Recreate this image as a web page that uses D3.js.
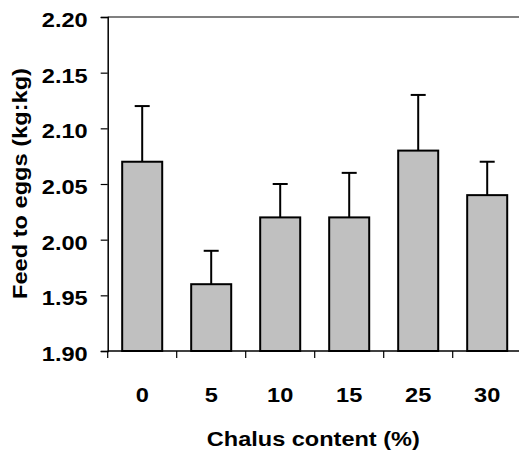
<!DOCTYPE html>
<html lang="en">
<head>
    <meta charset="UTF-8">
    <title>feed to eggs</title>
    <script src="https://cdn.jsdelivr.net/npm/d3@7"></script>
    <style>
        body { margin: 0; background: #fff; }
        text { font-family: "Liberation Sans", Arial, sans-serif; font-weight: bold; fill: #000; }
    </style>
</head>
<body>
    <svg width="519" height="450" id="mainsvg"></svg>
    <script>
        const categories = ['0', '5', '10', '15', '25', '30'];
        const means = [2.07, 1.96, 2.02, 2.02, 2.08, 2.04];
        const errors = [0.05, 0.03, 0.03, 0.04, 0.05, 0.03];
        const yTicks = [1.90, 1.95, 2.00, 2.05, 2.10, 2.15, 2.20];

        const svg = d3.select('#mainsvg');
        const plotLeft = 107.7, plotRight = 521.7, plotTop = 17, plotBottom = 351;
        const stretch = 1.15;

        const xScale = d3.scaleBand()
            .domain(categories)
            .range([plotLeft, plotRight])
            .paddingInner(0.42)
            .paddingOuter(0.21);
        const yScale = d3.scaleLinear()
            .domain([1.90, 2.20])
            .range([plotBottom, plotTop]);

        // widen text a bit like the original
        function widen(sel) {
            sel.each(function() {
                const w = this.getComputedTextLength();
                d3.select(this).attr('textLength', w * stretch).attr('lengthAdjust', 'spacingAndGlyphs');
            });
        }

        // top frame line
        svg.append('line')
            .attr('x1', plotLeft).attr('x2', plotRight)
            .attr('y1', plotTop).attr('y2', plotTop)
            .attr('stroke', '#808080').attr('stroke-width', 2);

        // y axis
        const yAxis = d3.axisLeft(yScale).tickValues(yTicks).tickFormat(d3.format('.2f'))
            .tickSize(7).tickPadding(13);
        const yg = svg.append('g').attr('transform', `translate(${plotLeft},0)`).call(yAxis);
        yg.select('.domain').attr('stroke', '#000').attr('stroke-width', 1.5);
        yg.selectAll('.tick line').attr('stroke', '#000').attr('stroke-width', 1.2);
        yg.selectAll('.tick text').attr('font-size', '20.5px').attr('font-family', null)
            .attr('dy', '0.32em').attr('y', 3).call(widen);

        // bars
        svg.selectAll('.bar').data(categories).join('rect')
            .attr('class', 'bar')
            .attr('x', d => xScale(d))
            .attr('width', xScale.bandwidth())
            .attr('y', (d, i) => yScale(means[i]))
            .attr('height', (d, i) => yScale(1.90) - yScale(means[i]))
            .attr('fill', '#c0c0c0')
            .attr('stroke', '#000')
            .attr('stroke-width', 2);

        // error bars (upper only)
        const eg = svg.append('g');
        eg.selectAll('.err').data(categories).join('line')
            .attr('x1', d => xScale(d) + xScale.bandwidth() / 2)
            .attr('x2', d => xScale(d) + xScale.bandwidth() / 2)
            .attr('y1', (d, i) => yScale(means[i]))
            .attr('y2', (d, i) => yScale(means[i] + errors[i]))
            .attr('stroke', '#000').attr('stroke-width', 2);
        eg.selectAll('.cap').data(categories).join('line')
            .attr('x1', d => xScale(d) + xScale.bandwidth() / 2 - 7.5)
            .attr('x2', d => xScale(d) + xScale.bandwidth() / 2 + 7.5)
            .attr('y1', (d, i) => yScale(means[i] + errors[i]))
            .attr('y2', (d, i) => yScale(means[i] + errors[i]))
            .attr('stroke', '#000').attr('stroke-width', 2);

        // x axis
        const step = xScale.step();
        const xAxis = d3.axisBottom(xScale).tickSize(0).tickPadding(36);
        const xg = svg.append('g').attr('transform', `translate(0,${plotBottom})`).call(xAxis);
        xg.select('.domain').remove();
        xg.selectAll('.tick text').attr('font-size', '20.5px').attr('font-family', null).call(widen);
        svg.append('line')
            .attr('x1', plotLeft).attr('x2', plotRight)
            .attr('y1', plotBottom).attr('y2', plotBottom)
            .attr('stroke', '#000').attr('stroke-width', 1.5);
        svg.selectAll('.xtick').data(categories.concat(['end'])).join('line')
            .attr('x1', (d, i) => plotLeft + i * step)
            .attr('x2', (d, i) => plotLeft + i * step)
            .attr('y1', plotBottom).attr('y2', plotBottom + 7)
            .attr('stroke', '#000').attr('stroke-width', 1.2);

        // titles
        svg.append('text')
            .attr('x', 313.3).attr('y', 445.5)
            .attr('text-anchor', 'middle')
            .attr('font-size', '20.5px')
            .attr('textLength', 213).attr('lengthAdjust', 'spacingAndGlyphs')
            .text('Chalus content (%)');
        svg.append('text')
            .attr('transform', 'translate(27,183.5) rotate(-90)')
            .attr('text-anchor', 'middle')
            .attr('font-size', '20.5px')
            .attr('textLength', 231).attr('lengthAdjust', 'spacingAndGlyphs')
            .text('Feed to eggs (kg:kg)');
    </script>
</body>
</html>
